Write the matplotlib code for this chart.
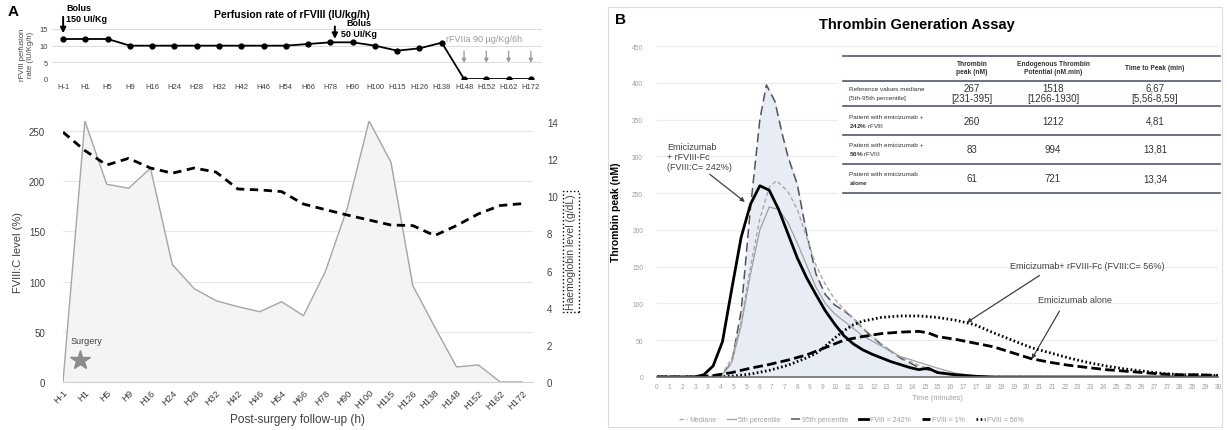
import matplotlib
matplotlib.use('Agg')
import matplotlib.pyplot as plt
import numpy as np
from matplotlib.lines import Line2D
from matplotlib.patches import Rectangle
from matplotlib import rcParams

rcParams['font.family'] = ['Liberation Sans', 'DejaVu Sans']
rcParams['mathtext.fontset'] = 'custom'
rcParams['mathtext.rm'] = 'Liberation Sans'
rcParams['mathtext.bf'] = 'Liberation Sans:bold'

W, H = 1227, 431

#---- Panel A data ----#
hours = ['H-1', 'H1', 'H5', 'H9', 'H16', 'H24', 'H28', 'H32', 'H42', 'H46', 'H54',
         'H66', 'H78', 'H90', 'H100', 'H115', 'H126', 'H138', 'H148', 'H152', 'H162', 'H172']
perfusion = [12, 12, 12, 10, 10, 10, 10, 10, 10, 10, 10, 10.5, 11, 11, 10, 8.5, 9.2, 10.9, 0, 0, 0, 0]
fviii = [0, 260, 197, 193, 213, 117, 93, 81, 75, 70, 80, 66, 110, 173, 260, 219, 96, 55, 15, 17, 0, 0]
haemoglobin = [13.45, 12.46, 11.68, 12.04, 11.52, 11.24, 11.52, 11.3, 10.39, 10.34, 10.25,
               9.58, 9.28, 8.99, 8.72, 8.45, 8.42, 7.88, 8.42, 9.05, 9.5, 9.6]
rfviia_hours = ['H148', 'H152', 'H162', 'H172']

#---- Panel B data (time in minutes, thrombin in nM) ----#
t_p95 = [0, 3, 3.5, 4, 4.5, 5, 5.5, 5.85, 6.3, 6.7, 7, 7.5, 8, 8.5, 9, 9.5, 10, 10.5, 11, 12, 13, 14, 15, 16, 17, 30]
v_p95 = [0, 0, 4, 20, 90, 230, 350, 397, 375, 330, 300, 262, 195, 140, 112, 98, 90, 80, 66, 44, 26, 13, 6, 2, 0, 0]
t_med = [0, 3, 3.5, 4, 4.5, 5, 5.5, 6, 6.4, 7, 7.5, 8, 8.5, 9, 9.5, 10, 10.5, 11, 12, 13, 14, 15, 16, 17, 30]
v_med = [0, 0, 5, 25, 75, 150, 215, 258, 267, 252, 228, 190, 152, 126, 106, 92, 80, 67, 45, 27, 16, 8, 3, 1, 0]
t_p5 = [0, 3, 3.5, 4, 4.5, 5, 5.5, 6, 6.5, 7, 7.5, 8, 8.5, 9, 9.5, 10, 10.5, 11, 12, 13, 14, 15, 16, 17, 18, 30]
v_p5 = [0, 0, 3, 20, 70, 140, 200, 231, 228, 210, 182, 152, 122, 100, 86, 76, 66, 56, 42, 28, 20, 12, 5, 2, 0, 0]
t_242 = [0, 2, 2.5, 3, 3.5, 4, 4.5, 5, 5.5, 6, 6.5, 7, 7.5, 8, 8.5, 9, 9.5, 10, 10.5, 11, 11.5, 12, 12.5,
         13, 13.5, 14, 14.5, 15, 16, 17, 18, 30]
v_242 = [0, 0, 3, 15, 48, 120, 190, 235, 260, 254, 228, 195, 162, 135, 112, 90, 72, 56, 45, 37, 31, 26, 21,
         17, 13, 10, 12, 6, 3, 1, 0, 0]
t_56 = [0, 3, 4, 5, 6, 7, 8, 8.5, 9, 9.5, 10, 10.5, 11, 12, 13, 14, 15, 16, 17, 18, 19, 20, 21, 22, 23, 24,
        25, 26, 27, 28, 29, 30]
v_56 = [0, 0, 1, 4, 9, 16, 26, 32, 42, 53, 63, 71, 76, 81, 83, 83, 81, 77, 71, 60, 50, 40, 33, 26, 20, 15,
        11, 8, 5, 3, 3, 2]
t_lt1 = [0, 2, 3, 4, 5, 6, 7, 8, 9, 10, 11, 12, 13, 14, 14.5, 15, 16, 17, 18, 19, 20, 21, 22, 23, 24, 25,
         26, 27, 28, 29, 30]
v_lt1 = [0, 0, 2, 6, 12, 17, 23, 30, 40, 50, 55, 59, 61, 62, 60, 55, 51, 46, 41, 33, 25, 20, 16, 13, 10, 8,
         6, 4, 3, 3, 2]
time_labels = ['0', '1', '2', '3', '3', '4', '5', '5', '6', '7', '7', '8', '9', '9', '10', '11', '11', '12',
               '13', '13', '14', '15', '15', '16', '17', '17', '18', '19', '19', '20', '21', '21', '22', '23',
               '23', '24', '25', '25', '26', '27', '27', '28', '29', '29', '30']

table_cols = ['Thrombin\npeak (nM)', 'Endogenous Thrombin\nPotential (nM.min)', 'Time to Peak (min)']
table_rows = [('Reference values mediane', '[5th-95th percentile]'),
              ('Patient with emicizumab +', r'$\mathbf{242\%}$ rFVIII'),
              ('Patient with emicizumab +', r'$\mathbf{56\%}$ rFVIII'),
              ('Patient with emicizumab', r'$\mathbf{alone}$')]
table_vals = [['267\n[231-395]', '1518\n[1266-1930]', '6,67\n[5,56-8,59]'],
              ['260', '1212', '4,81'],
              ['83', '994', '13,81'],
              ['61', '721', '13,34']]


def fx(x):
    return x / W


def fy(y):
    return 1 - y / H


fig = plt.figure(figsize=(W / 100, H / 100), dpi=100)
txt = '#404040'

#---- Panel A top: perfusion rate ----#
ax0 = fig.add_axes([fx(52), fy(80), fx(542) - fx(52), fy(30) - fy(80)])
xi = np.arange(len(hours))
ax0.plot(xi, perfusion, color='black', lw=1.3, marker='o', ms=3.5, zorder=3)
ax0.set_xlim(-0.5, 21.5)
ax0.set_ylim(0, 15)
ax0.set_yticks([0, 5, 10, 15])
ax0.set_xticks(xi)
ax0.set_xticklabels(hours, fontsize=5.5, color=txt)
ax0.tick_params(axis='both', length=0, labelsize=5.5, labelcolor=txt, pad=3)
ax0.grid(axis='y', color='#dcdcdc', lw=0.7)
for s in ax0.spines.values():
    s.set_visible(False)
ax0.set_ylabel('rFVIII perfusion\nrate (IU/Kg/h)', fontsize=5.5, color=txt, labelpad=4)
fig.text(fx(292), fy(15), 'Perfusion rate of rFVIII (IU/kg/h)', fontsize=7.5, fontweight='bold',
         ha='center', va='center')
ax0.annotate('', xy=(0, 12.9), xytext=(0, 19.5), annotation_clip=False,
             arrowprops=dict(arrowstyle='-|>', color='black', lw=1.4, mutation_scale=8))
fig.text(fx(66), fy(14), 'Bolus\n150 UI/Kg', fontsize=6.5, fontweight='bold', ha='left', va='center',
         linespacing=1.3)
ax0.annotate('', xy=(12.2, 11.2), xytext=(12.2, 16.6), annotation_clip=False,
             arrowprops=dict(arrowstyle='-|>', color='black', lw=1.4, mutation_scale=8))
fig.text(fx(341), fy(29), 'Bolus\n50 UI/Kg', fontsize=6.5, fontweight='bold', ha='left', va='center',
         linespacing=1.3, multialignment='center')
ax0.text(18.9, 12.0, u'rFVIIa 90 \u00b5g/Kg/6h', fontsize=6.5, color='#9a9a9a', ha='center', va='center')
for h in rfviia_hours:
    k = hours.index(h)
    ax0.annotate('', xy=(k, 4.0), xytext=(k, 9.2), annotation_clip=False,
                 arrowprops=dict(arrowstyle='-|>', color='#9a9a9a', lw=0.9, mutation_scale=6))

#---- Panel A bottom: FVIII:C and haemoglobin ----#
ax1 = fig.add_axes([fx(63), fy(383), fx(533) - fx(63), fy(122) - fy(383)])
ax1.fill_between(xi, fviii, color='#f4f4f4', zorder=1)
ax1.plot(xi, fviii, color='#a6a6a6', lw=1.0, zorder=2)
ax1.set_xlim(0, 21.5)
ax1.set_ylim(0, 260)
ax1.set_yticks([0, 50, 100, 150, 200, 250])
ax1.grid(axis='y', color='#e6e6e6', lw=0.8, zorder=0)
ax1.set_axisbelow(True)
ax1.set_xticks(xi)
ax1.set_xticklabels(hours, rotation=45, ha='right', rotation_mode='anchor', fontsize=6.8, color=txt)
ax1.tick_params(axis='y', length=0, labelsize=7, labelcolor=txt, pad=13)
ax1.tick_params(axis='x', length=0, labelcolor=txt, pad=4)
for s in ax1.spines.values():
    s.set_visible(False)
ax1.spines['bottom'].set_visible(True)
ax1.spines['bottom'].set_color('#d0d0d0')
ax1.set_ylabel('FVIII:C level (%)', fontsize=8, color=txt, labelpad=4)
ax1.set_xlabel('Post-surgery follow-up (h)', fontsize=8.5, color=txt, labelpad=2)
ax1.plot([0.78], [22], marker='*', ms=15, color='#8c8c8c', zorder=4, clip_on=False)
ax1.text(1.08, 41, 'Surgery', fontsize=6.5, color=txt, ha='center', va='center')

ax2 = ax1.twinx()
ax2.plot(xi, haemoglobin, color='black', lw=2.0, dashes=(3, 2), zorder=3)
ax2.set_ylim(0, 14.05)
ax2.set_yticks([0, 2, 4, 6, 8, 10, 12, 14])
ax2.tick_params(axis='y', length=0, labelsize=7, labelcolor=txt, pad=10)
for s in ax2.spines.values():
    s.set_visible(False)
ax2.set_ylabel('Haemoglobin level (g/dL)', fontsize=7.5, color=txt, labelpad=6,
               bbox=dict(boxstyle='square,pad=0.25', fc='none', ec='black', ls=':', lw=1.0))

fig.text(fx(8), fy(12), 'A', fontsize=11, fontweight='bold', ha='left', va='center')

#---- Panel B: thrombin generation ----#
fig.add_artist(Rectangle((fx(608), fy(428)), fx(1222) - fx(608), fy(8) - fy(428),
                         fill=False, ec='#dcdcdc', lw=0.8, zorder=0))
fig.text(fx(615), fy(20), 'B', fontsize=11, fontweight='bold', ha='left', va='center')
fig.text(fx(917), fy(25), 'Thrombin Generation Assay', fontsize=10.5, fontweight='bold', ha='center',
         va='center')

ax3 = fig.add_axes([fx(657), fy(378), fx(1218) - fx(657), fy(47) - fy(378)])
ax3.fill_between(t_p95, v_p95, color='#e8ecf4', zorder=1)
ax3.plot(t_p95, v_p95, color='#555555', lw=1.1, dashes=(6, 3), zorder=3, label='95th percentile')
ax3.plot(t_med, v_med, color='#a8a8a8', lw=1.0, dashes=(3, 2), zorder=3, label='Mediane')
ax3.plot(t_p5, v_p5, color='#a0a0a0', lw=0.9, zorder=3, label='5th percentile')
ax3.plot(t_242, v_242, color='black', lw=2.0, zorder=4, label='FVIII = 242%')
ax3.plot(t_lt1, v_lt1, color='black', lw=2.0, dashes=(3.5, 1.5), zorder=4, label='FVIII < 1%')
ax3.plot(t_56, v_56, color='black', lw=2.0, dashes=(0.6, 0.9), zorder=4, label='FVIII = 56%')
ax3.set_xlim(0, 30)
ax3.set_ylim(0, 450)
ax3.set_yticks(np.arange(0, 451, 50))
ax3.set_xticks(np.linspace(0, 30, len(time_labels)))
ax3.set_xticklabels(time_labels)
ax3.tick_params(axis='both', length=0, labelsize=4.8, labelcolor='#a0a0a0')
ax3.tick_params(axis='y', pad=10)
ax3.tick_params(axis='x', pad=4)
ax3.grid(axis='y', color='#ececec', lw=0.8, zorder=0)
ax3.set_axisbelow(True)
for s in ax3.spines.values():
    s.set_visible(False)
ax3.spines['bottom'].set_visible(True)
ax3.spines['bottom'].set_color('#6e6e6e')
ax3.spines['bottom'].set_linewidth(1.2)
ax3.spines['bottom'].set_zorder(5)
ax3.set_ylabel('Thrombin peak (nM)', fontsize=7.5, fontweight='bold', labelpad=8)
ax3.set_xlabel('Time (minutes)', fontsize=5.5, color='#a0a0a0', labelpad=3)

ax3.annotate('Emicizumab\n+ rFVIII-Fc\n(FVIII:C= 242%)', xy=(4.7, 238), xytext=(0.55, 319),
             fontsize=6.5, color=txt, ha='left', va='top', linespacing=1.15,
             arrowprops=dict(arrowstyle='-|>', color='#404040', lw=0.9, mutation_scale=6,
                             shrinkA=0, shrinkB=0, relpos=(0.6, 0.0)))
ax3.annotate('Emicizumab+ rFVIII-Fc (FVIII:C= 56%)', xy=(16.56, 74), xytext=(23.0, 152),
             fontsize=6.5, color=txt, ha='center', va='center',
             arrowprops=dict(arrowstyle='-|>', color='#404040', lw=0.9, mutation_scale=6,
                             shrinkA=4, shrinkB=0, relpos=(0.25, 0.0)))
ax3.annotate('Emicizumab alone', xy=(20.04, 24.5), xytext=(22.35, 106),
             fontsize=6.5, color=txt, ha='center', va='center',
             arrowprops=dict(arrowstyle='-|>', color='#404040', lw=0.9, mutation_scale=6,
                             shrinkA=4, shrinkB=0, relpos=(0.35, 0.0)))

handles, labels = ax3.get_legend_handles_labels()
order = [1, 2, 0, 3, 4, 5]
leg = fig.legend([handles[i] for i in order], [labels[i] for i in order], loc='center',
                 bbox_to_anchor=(fx(851), fy(421)), ncol=6, frameon=False, fontsize=5,
                 handlelength=1.2, handletextpad=0.3, columnspacing=1.6)
for t in leg.get_texts():
    t.set_color('#a0a0a0')

#---- Table inset ----#
fig.add_artist(Rectangle((fx(838), fy(198)), fx(1222) - fx(838), fy(50) - fy(198),
                         fc='white', ec='none', zorder=2))
line_c = '#505572'
for yl in [57, 82, 107, 136, 165, 194]:
    fig.add_artist(Line2D([fx(843), fx(1220)], [fy(yl), fy(yl)], color=line_c, lw=1.2, zorder=3))
col_x = [972, 1053, 1155]
for cx, c in zip(col_x, table_cols):
    fig.text(fx(cx), fy(69), c, fontsize=4.8, fontweight='bold', color='#333333', ha='center',
             va='center', linespacing=1.2, zorder=4)
row_y = [94, 122, 150, 179]
for ry, (l1, l2), vals in zip(row_y, table_rows, table_vals):
    fig.text(fx(849), fy(ry - 4.5), l1, fontsize=4.6, color='#333333', ha='left', va='center', zorder=4)
    fig.text(fx(849), fy(ry + 4.5), l2, fontsize=4.6, color='#333333', ha='left', va='center', zorder=4)
    for cx, v in zip(col_x, vals):
        fig.text(fx(cx), fy(ry), v, fontsize=7, color='#333333', ha='center', va='center',
                 linespacing=1.05, zorder=4)

plt.savefig('out.png', dpi=100)
